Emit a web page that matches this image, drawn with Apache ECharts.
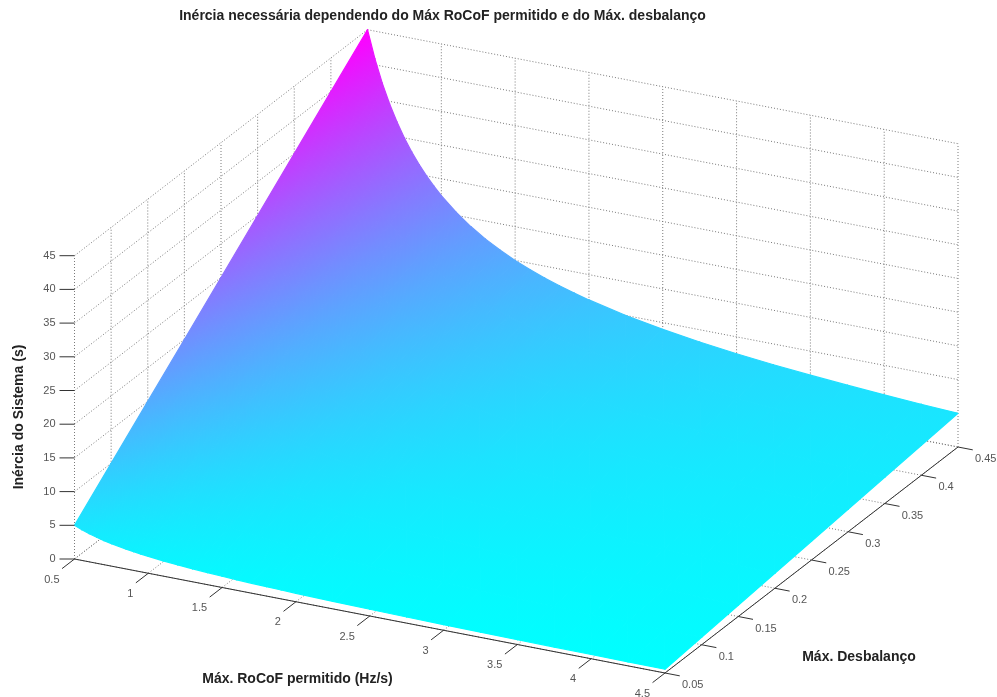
<!DOCTYPE html>
<html>
<head>
<meta charset="utf-8">
<style>html,body{margin:0;padding:0;background:#fff}#c{width:997px;height:697px}</style>
<script src="https://cdn.jsdelivr.net/npm/echarts@6/dist/echarts.min.js"></script>
</head>
<body>
<div id="c"></div>
<script>
var rocofValues = [0.5,0.55,0.6,0.65,0.7,0.75,0.8,0.85,0.9,0.95,1,1.1,1.2,1.3,1.4,1.5,1.6,1.7,1.8,1.9,2,2.25,2.5,2.75,3,3.25,3.5,3.75,4,4.25,4.5];
var imbalanceValues = [0.05,0.1,0.15,0.2,0.25,0.3,0.35,0.4,0.45];
var inertiaAt005 = [5,4.55,4.17,3.85,3.57,3.33,3.13,2.94,2.78,2.63,2.5,2.27,2.08,1.92,1.79,1.67,1.56,1.47,1.39,1.32,1.25,1.11,1,0.91,0.83,0.77,0.71,0.67,0.63,0.59,0.56];
var inertiaAt010 = [10,9.09,8.33,7.69,7.14,6.67,6.25,5.88,5.56,5.26,5,4.55,4.17,3.85,3.57,3.33,3.13,2.94,2.78,2.63,2.5,2.22,2,1.82,1.67,1.54,1.43,1.33,1.25,1.18,1.11];
var inertiaAt015 = [15,13.64,12.5,11.54,10.71,10,9.38,8.82,8.33,7.89,7.5,6.82,6.25,5.77,5.36,5,4.69,4.41,4.17,3.95,3.75,3.33,3,2.73,2.5,2.31,2.14,2,1.88,1.76,1.67];
var inertiaAt020 = [20,18.18,16.67,15.38,14.29,13.33,12.5,11.76,11.11,10.53,10,9.09,8.33,7.69,7.14,6.67,6.25,5.88,5.56,5.26,5,4.44,4,3.64,3.33,3.08,2.86,2.67,2.5,2.35,2.22];
var inertiaAt025 = [25,22.73,20.83,19.23,17.86,16.67,15.63,14.71,13.89,13.16,12.5,11.36,10.42,9.62,8.93,8.33,7.81,7.35,6.94,6.58,6.25,5.56,5,4.55,4.17,3.85,3.57,3.33,3.13,2.94,2.78];
var inertiaAt030 = [30,27.27,25,23.08,21.43,20,18.75,17.65,16.67,15.79,15,13.64,12.5,11.54,10.71,10,9.38,8.82,8.33,7.89,7.5,6.67,6,5.45,5,4.62,4.29,4,3.75,3.53,3.33];
var inertiaAt035 = [35,31.82,29.17,26.92,25,23.33,21.88,20.59,19.44,18.42,17.5,15.91,14.58,13.46,12.5,11.67,10.94,10.29,9.72,9.21,8.75,7.78,7,6.36,5.83,5.38,5,4.67,4.38,4.12,3.89];
var inertiaAt040 = [40,36.36,33.33,30.77,28.57,26.67,25,23.53,22.22,21.05,20,18.18,16.67,15.38,14.29,13.33,12.5,11.76,11.11,10.53,10,8.89,8,7.27,6.67,6.15,5.71,5.33,5,4.71,4.44];
var inertiaAt045 = [45,40.91,37.5,34.62,32.14,30,28.13,26.47,25,23.68,22.5,20.45,18.75,17.31,16.07,15,14.06,13.24,12.5,11.84,11.25,10,9,8.18,7.5,6.92,6.43,6,5.63,5.29,5];
var inertiaRows = [inertiaAt005,inertiaAt010,inertiaAt015,inertiaAt020,inertiaAt025,inertiaAt030,inertiaAt035,inertiaAt040,inertiaAt045];

var rocofTicks = [0.5,1,1.5,2,2.5,3,3.5,4,4.5];
var imbalanceTicks = [0.05,0.1,0.15,0.2,0.25,0.3,0.35,0.4,0.45];
var inertiaTicks = [0,5,10,15,20,25,30,35,40,45];

var titleText = 'Inércia necessária dependendo do Máx RoCoF permitido e do Máx. desbalanço';
var rocofTitle = 'Máx. RoCoF permitido (Hz/s)';
var imbalanceTitle = 'Máx. Desbalanço';
var inertiaTitle = 'Inércia do Sistema (s)';

// oblique view of the 3D box, expressed in the plane of the hidden cartesian axes
var RMIN = 0.5, RMAX = 4.5, DMIN = 0.05, DMAX = 0.45, ZMAX = 45;
function project(r, d, z) {
  var a = (r - RMIN) / (RMAX - RMIN), b = (d - DMIN) / (DMAX - DMIN);
  return [74.5 + a * 590.5 + b * 293, 559 + a * 114 - b * 226 - z * 6.74];
}
var HMIN = 0.56, HMAX = 45;
function cool(h) {
  var t = (h - HMIN) / (HMAX - HMIN);
  t = Math.max(0, Math.min(1, t));
  return 'rgb(' + Math.round(255 * t) + ',' + Math.round(255 * (1 - t)) + ',255)';
}

// gridlines behind the surface
var gridSegs = [], axisSegs = [];
inertiaTicks.forEach(function (z) {
  gridSegs.push([RMIN, DMIN, z, RMIN, DMAX, z]);
  gridSegs.push([RMIN, DMAX, z, RMAX, DMAX, z]);
});
imbalanceTicks.forEach(function (d) {
  gridSegs.push([RMIN, d, 0, RMIN, d, ZMAX]);
  gridSegs.push([RMIN, d, 0, RMAX, d, 0]);
});
rocofTicks.forEach(function (r) {
  gridSegs.push([r, DMAX, 0, r, DMAX, ZMAX]);
  gridSegs.push([r, DMIN, 0, r, DMAX, 0]);
});
axisSegs.push([RMIN, DMIN, 0, RMAX, DMIN, 0]);
axisSegs.push([RMAX, DMIN, 0, RMAX, DMAX, 0]);
rocofTicks.forEach(function (r) { axisSegs.push([r, DMIN, 0, r, DMIN - 0.017, 0]); });
imbalanceTicks.forEach(function (d) { axisSegs.push([RMAX, d, 0, RMAX + 0.1, d, 0]); });

var cells = [];
for (var di = imbalanceValues.length - 2; di >= 0; di--) {
  for (var ri = 0; ri < rocofValues.length - 1; ri++) cells.push([ri, di]);
}

function triangle(api, a, b, c) {
  var p = [a, b, c].map(function (v) { return api.coord(project(rocofValues[v[0]], imbalanceValues[v[1]], inertiaRows[v[1]][v[0]])); });
  var s = [a, b, c].map(function (v) { return inertiaRows[v[1]][v[0]]; });
  var e1x = p[1][0] - p[0][0], e1y = p[1][1] - p[0][1], e2x = p[2][0] - p[0][0], e2y = p[2][1] - p[0][1];
  var det = e1x * e2y - e2x * e1y;
  var ds1 = s[1] - s[0], ds2 = s[2] - s[0];
  var fill = cool(s[0]);
  if (Math.abs(det) > 1e-6) {
    var gx = (ds1 * e2y - ds2 * e1y) / det, gy = (ds2 * e1x - ds1 * e2x) / det;
    var g2 = gx * gx + gy * gy;
    if (g2 > 1e-12) {
      var lo = Math.min(s[0], s[1], s[2]), hi = Math.max(s[0], s[1], s[2]);
      fill = {
        type: 'linear', global: true,
        x: p[0][0] + gx * (lo - s[0]) / g2, y: p[0][1] + gy * (lo - s[0]) / g2,
        x2: p[0][0] + gx * (hi - s[0]) / g2, y2: p[0][1] + gy * (hi - s[0]) / g2,
        colorStops: [{ offset: 0, color: cool(lo) }, { offset: 1, color: cool(hi) }]
      };
    }
  }
  return { type: 'polygon', shape: { points: p }, style: { fill: fill, stroke: fill, lineWidth: 1.2, lineJoin: 'round' } };
}

function segRender(style) {
  return function (params, api) {
    var a = api.coord(project(api.value(0), api.value(1), api.value(2)));
    var b = api.coord(project(api.value(3), api.value(4), api.value(5)));
    return { type: 'line', shape: { x1: a[0], y1: a[1], x2: b[0], y2: b[1] }, style: style };
  };
}

function tickLabelItems() {
  var out = [];
  var font = '11px "Liberation Sans", Arial, sans-serif', col = '#555';
  rocofTicks.forEach(function (r) {
    var p = project(r, DMIN, 0);
    out.push({ text: String(r), x: p[0] - 15, y: p[1] + 20.5, align: 'right' });
  });
  imbalanceTicks.forEach(function (d) {
    var p = project(RMAX, d, 0);
    out.push({ text: String(d), x: p[0] + 17, y: p[1] + 12, align: 'left' });
  });
  inertiaTicks.forEach(function (z) {
    var p = project(RMIN, DMIN, z);
    out.push({ text: String(z), x: p[0] - 19, y: p[1], align: 'right' });
  });
  return out.map(function (o) { o.font = font; o.fill = col; return o; });
}
var tickLabels = tickLabelItems();

var titleFont = 'bold 14px "Liberation Sans", Arial, sans-serif';
var chart = echarts.init(document.getElementById('c'), null, { renderer: 'canvas' });
chart.setOption({
  animation: false,
  backgroundColor: '#fff',
  grid: { left: 0, right: 0, top: 0, bottom: 0 },
  xAxis: { type: 'value', min: 0, max: 997, show: false },
  yAxis: { type: 'value', min: 0, max: 697, inverse: true, show: false },
  title: {
    text: titleText, left: 437.5, top: 4, textAlign: 'center',
    textStyle: { fontFamily: '"Liberation Sans", Arial, sans-serif', fontSize: 14, fontWeight: 'bold', color: '#222' }
  },
  graphic: [
    { type: 'text', x: 297.5, y: 679, style: { text: rocofTitle, font: titleFont, fill: '#222', align: 'center', verticalAlign: 'middle' } },
    { type: 'text', x: 859, y: 657, style: { text: imbalanceTitle, font: titleFont, fill: '#222', align: 'center', verticalAlign: 'middle' } },
    { type: 'text', x: 19, y: 417, rotation: Math.PI / 2, style: { text: inertiaTitle, font: titleFont, fill: '#222', align: 'center', verticalAlign: 'middle' } }
  ],
  series: [
    { type: 'custom', coordinateSystem: 'cartesian2d', silent: true, clip: false, z: 1, data: gridSegs,
      encode: { x: 0, y: 1 },
      renderItem: segRender({ stroke: '#7a7a7a', lineWidth: 1, lineDash: [1, 2], fill: null }) },
    { type: 'custom', coordinateSystem: 'cartesian2d', silent: true, clip: false, z: 2, data: cells,
      encode: { x: 0, y: 1 },
      renderItem: function (params, api) {
        var ri = api.value(0), di = api.value(1);
        return { type: 'group', children: [
          triangle(api, [ri, di], [ri + 1, di], [ri, di + 1]),
          triangle(api, [ri + 1, di], [ri + 1, di + 1], [ri, di + 1])
        ] };
      } },
    { type: 'custom', coordinateSystem: 'cartesian2d', silent: true, clip: false, z: 3, data: axisSegs,
      encode: { x: 0, y: 1 },
      renderItem: segRender({ stroke: '#333', lineWidth: 1, fill: null }) },
    { type: 'custom', coordinateSystem: 'cartesian2d', silent: true, clip: false, z: 4,
      data: inertiaTicks.map(function (z) { return [z]; }),
      encode: { x: 0 },
      renderItem: function (params, api) {
        var p = api.coord(project(RMIN, DMIN, api.value(0)));
        return { type: 'line', shape: { x1: p[0], y1: p[1], x2: p[0] - 15, y2: p[1] }, style: { stroke: '#333', lineWidth: 1 } };
      } },
    { type: 'custom', coordinateSystem: 'cartesian2d', silent: true, clip: false, z: 5,
      data: tickLabels.map(function (o, i) { return [i]; }),
      encode: { x: 0 },
      renderItem: function (params, api) {
        var o = tickLabels[api.value(0)];
        var p = api.coord([o.x, o.y]);
        return { type: 'text', style: { text: o.text, x: p[0], y: p[1], align: o.align, verticalAlign: 'middle', font: o.font, fill: o.fill } };
      } }
  ]
});
</script>
</body>
</html>
